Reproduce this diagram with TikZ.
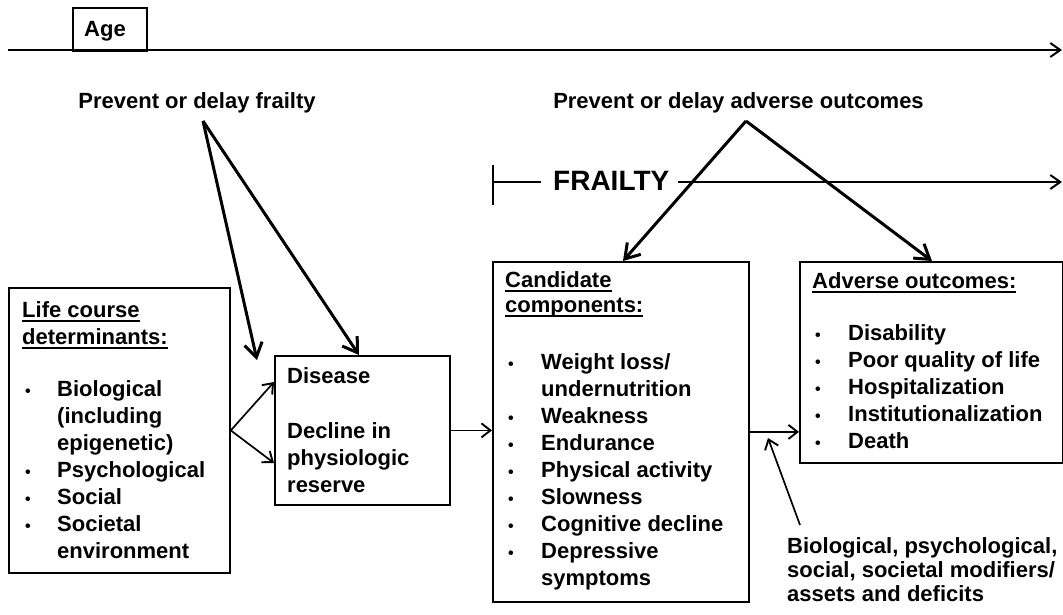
\documentclass[tikz,border=0pt]{standalone}
\usepackage{fontspec}
\setmainfont{Liberation Sans}
\usetikzlibrary{arrows.meta,calc}
\newcommand\ulin[1]{\setbox0\hbox{#1}\rlap{\rule[-4.5pt]{\wd0}{1.6pt}}\box0}
\newcommand\bulL{\makebox[35pt][l]{\hspace{3pt}{\fontsize{16}{16}\selectfont\textbullet}}}
\newcommand\bulC{\makebox[36pt][l]{\hspace{3pt}{\fontsize{16}{16}\selectfont\textbullet}}}
\begin{document}
\begin{tikzpicture}[x=1pt,y=-1pt,
  box/.style={draw, line width=1.8pt, inner sep=0pt, anchor=north west},
  txt/.style={font=\fontsize{22}{27}\selectfont\bfseries, inner sep=0pt},
  thickarrow/.style={line width=3pt, -{Straight Barb[length=14pt,width=18pt,line width=3pt]}},
  thinarrow/.style={line width=1.7pt, -{Straight Barb[length=9pt,width=14pt,line width=1.9pt]}},
  axis/.style={line width=2.2pt}]
\fill[white] (0,0) rectangle (1063,614);
\useasboundingbox (0,0) rectangle (1063,614);

% Age axis
\coordinate (ageL) at (8,50);
\coordinate (ageR) at (1062,50);
\draw[axis, -{Straight Barb[length=10pt,width=14pt,line width=2pt]}] (ageL) -- (ageR);
\node[box, minimum width=74pt, minimum height=43pt] (agebox) at (72,7) {};
\node[txt, anchor=base west] (agetxt) at (84,36) {Age};

% Frailty axis
\coordinate (ftickT) at (493,165);
\coordinate (ftickB) at (493,205);
\coordinate (fL) at (493,182);
\coordinate (fL2) at (541,182);
\coordinate (fR1) at (678,182);
\coordinate (fR) at (1062,182);
\draw[axis] (ftickT) -- (ftickB);
\draw[axis] (fL) -- (fL2);
\node[inner sep=0pt, anchor=base west, font=\fontsize{28}{30}\selectfont\bfseries] (frailty) at (553,190) {FRAILTY};
\draw[axis, -{Straight Barb[length=10pt,width=14pt,line width=2pt]}] (fR1) -- (fR);

% Top labels
\node[txt, anchor=base] (pf) at (197,108) {Prevent or delay frailty};
\node[txt, anchor=base] (pa) at (738.5,108) {Prevent or delay adverse outcomes};

% Boxes
\node[box, minimum width=221pt, minimum height=285pt] (life) at (8,287) {};
\node[box, minimum width=175pt, minimum height=149pt] (dis) at (274,355) {};
\node[box, minimum width=256pt, minimum height=340pt] (cand) at (492,261) {};
\node[box, minimum width=263pt, minimum height=201pt] (adv) at (799,261) {};

% Box texts
\node[txt, anchor=base west] (lifet) at (22,317) {\begin{tabular}[t]{@{}l@{}}
\ulin{Life course}\\
\ulin{determinants:}\\[25pt]
\bulL Biological\\
\hspace*{35pt}(including\\
\hspace*{35pt}epigenetic)\\
\bulL Psychological\\
\bulL Social\\
\bulL Societal\\
\hspace*{35pt}environment
\end{tabular}};

\node[txt, anchor=base west] (dist) at (287,383) {\begin{tabular}[t]{@{}l@{}}
Disease\\[28pt]
Decline in\\
physiologic\\
reserve
\end{tabular}};

\node[txt, anchor=base west] (candt) at (505,287) {\begin{tabular}[t]{@{}l@{}}
\ulin{Candidate}\\[-2pt]
\ulin{components:}\\[30pt]
\bulC Weight loss/\\
\hspace*{36pt}undernutrition\\
\bulC Weakness\\
\bulC Endurance\\
\bulC Physical activity\\
\bulC Slowness\\
\bulC Cognitive decline\\
\bulC Depressive\\
\hspace*{36pt}symptoms
\end{tabular}};

\node[txt, anchor=base west] (advt) at (812,288) {\begin{tabular}[t]{@{}l@{}}
\ulin{Adverse outcomes:}\\[25pt]
\bulC Disability\\
\bulC Poor quality of life\\
\bulC Hospitalization\\
\bulC Institutionalization\\
\bulC Death
\end{tabular}};

\node[anchor=base west, inner sep=0pt, font=\fontsize{22}{24}\selectfont\bfseries] (mod) at (787,553) {\begin{tabular}[t]{@{}l@{}}
Biological, psychological,\\
social, societal modifiers/\\
assets and deficits
\end{tabular}};

% Thick arrows
\coordinate (pfa) at (203,121);
\coordinate (pft) at (257,360);
\coordinate (paa) at (746,121);
\draw[thickarrow] (pfa) -- (pft);
\draw[thickarrow] (pfa) -- ($(dis.north west)+(85,0)$);
\draw[thickarrow] (paa) -- ($(cand.north west)+(131,0)$);
\draw[thickarrow] (paa) -- ($(adv.north west)+(133,0)$);

% Thin arrows
\draw[thinarrow] (life.east) -- ($(dis.north west)+(0,27)$);
\draw[thinarrow] (life.east) -- ($(dis.north west)+(0,108)$);
\draw[thinarrow] (dis.east) -- (dis.east -| cand.west);
\draw[thinarrow] (cand.east) -- (cand.east -| adv.west);
\coordinate (modtail) at (800,525);
\coordinate (modhead) at (768,438);
\draw[thinarrow] (modtail) -- (modhead);
\end{tikzpicture}
\end{document}
